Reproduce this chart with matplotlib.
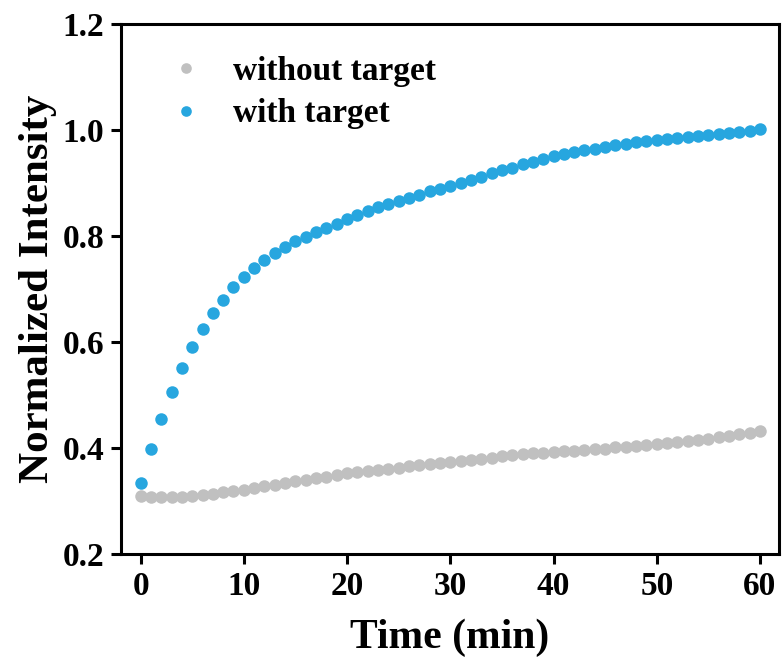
import numpy as np
import matplotlib
matplotlib.use("Agg")
import matplotlib.pyplot as plt

# time points, one reading per minute
time_min = np.arange(0, 61)

with_target = [
    0.334, 0.398, 0.455, 0.506, 0.550, 0.591, 0.624, 0.654, 0.680, 0.703,
    0.723, 0.740, 0.755, 0.768, 0.780, 0.790, 0.799, 0.807, 0.815, 0.823,
    0.832, 0.840, 0.847, 0.854, 0.860, 0.866, 0.872, 0.878, 0.884, 0.889,
    0.895, 0.900, 0.906, 0.912, 0.918, 0.924, 0.929, 0.935, 0.940, 0.945,
    0.950, 0.955, 0.959, 0.962, 0.965, 0.968, 0.971, 0.974, 0.977, 0.979,
    0.981, 0.983, 0.985, 0.987, 0.989, 0.991, 0.993, 0.995, 0.997, 0.999,
    1.001,
]

without_target = [
    0.309, 0.308, 0.307, 0.307, 0.308, 0.309, 0.311, 0.313, 0.316, 0.318,
    0.321, 0.324, 0.328, 0.331, 0.334, 0.337, 0.340, 0.343, 0.346, 0.349,
    0.352, 0.354, 0.357, 0.359, 0.361, 0.363, 0.366, 0.368, 0.370, 0.372,
    0.374, 0.376, 0.378, 0.380, 0.382, 0.384, 0.386, 0.388, 0.390, 0.391,
    0.393, 0.394, 0.395, 0.397, 0.398, 0.399, 0.401, 0.402, 0.404, 0.405,
    0.407, 0.409, 0.411, 0.413, 0.415, 0.417, 0.420, 0.423, 0.426, 0.429,
    0.432,
]

x_ticks = [0, 10, 20, 30, 40, 50, 60]
y_ticks = [0.2, 0.4, 0.6, 0.8, 1.0, 1.2]

plt.rcParams['font.family'] = ['Liberation Serif', 'DejaVu Serif']
plt.rcParams['font.weight'] = 'bold'

fig = plt.figure(figsize=(7.83, 6.64), dpi=100)
ax = fig.add_axes([0.1545, 0.1657, 0.8405, 0.7982])

ax.plot(time_min, without_target, 'o', color='#c0c0c0', markersize=9,
        markeredgewidth=0, label='without target')
ax.plot(time_min, with_target, 'o', color='#27a6df', markersize=9,
        markeredgewidth=0, label='with target')

ax.set_xlim(-1.9, 61.85)
ax.set_ylim(0.2, 1.2)
ax.set_xticks(x_ticks)
ax.set_yticks(y_ticks)
ax.set_yticklabels(['%.1f' % v for v in y_ticks])

for s in ax.spines.values():
    s.set_linewidth(2.2)
ax.tick_params(direction='out', length=7, width=2.2, labelsize=24, pad=5)

ax.set_xlabel('Time (min)', fontsize=30, fontweight='bold', labelpad=12)
ax.set_ylabel('Normalized Intensity', fontsize=31, fontweight='bold', labelpad=4)

ax.legend(loc='upper left', bbox_to_anchor=(0.023, 0.997), frameon=False,
          fontsize=24, markerscale=0.85, handlelength=1.2, handletextpad=0.8,
          labelspacing=0.35)

fig.savefig('out.png', dpi=100)
